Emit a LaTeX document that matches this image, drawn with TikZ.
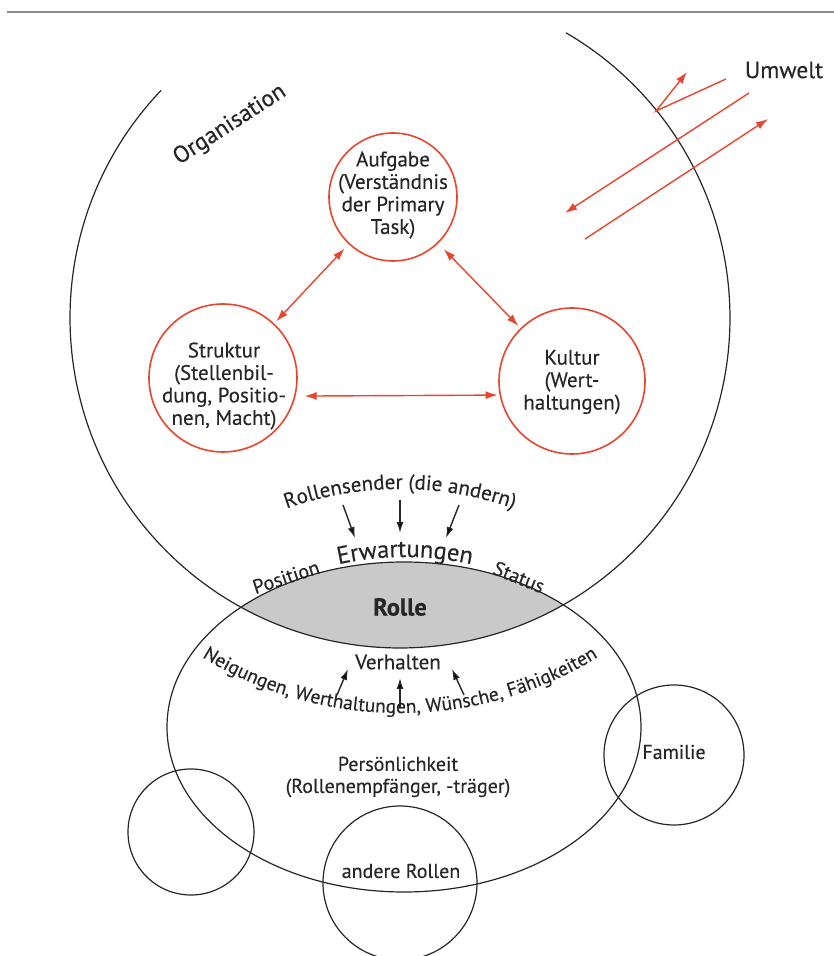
\documentclass[tikz,border=0pt]{standalone}
\usepackage{fontspec}
\setmainfont{PT Sans}[FakeBold=0.3]
\usetikzlibrary{arrows.meta,decorations.text}
\definecolor{ored}{HTML}{E8452F}
\definecolor{lensgray}{HTML}{C9C9C9}
\definecolor{ink}{HTML}{262626}
\begin{document}
\begin{tikzpicture}[x=1pt,y=1pt,
  blackline/.style={draw=ink, line width=1.2pt},
  blackcirc/.style={circle, draw=ink, line width=1.2pt, inner sep=0pt},
  redcirc/.style={circle, draw=ored, line width=1.6pt, inner sep=0pt},
  txt/.style={text=ink, align=center, inner sep=0pt, font=\fontsize{20}{22}\selectfont},
  redtxt/.style={txt, font=\fontsize{21}{22.5}\selectfont},
  redarrow/.style={draw=ored, line width=1.4pt, {Latex[length=12pt,width=8pt]}-{Latex[length=12pt,width=8pt]}},
  redline/.style={draw=ored, line width=1.4pt},
  blackarrow/.style={draw=ink, line width=1.4pt, -{Latex[length=11pt,width=7pt]}},
  curvetxt/.style={decorate, decoration={text along path, text align=center, text color=ink}}
]
\useasboundingbox (0,0) rectangle (834,956);
% top rule
\coordinate (r1) at (7,944);
\coordinate (r2) at (834,944);
\draw[black!45, line width=1.2pt] (r1) -- (r2);

% lens fill
\begin{scope}
  \clip (400,638) circle (330);
  \fill[lensgray] (404,229) ellipse [x radius=237, y radius=165];
\end{scope}

% Organisation circle (open arc)
\draw[blackline] (400,638) ++(136.4:330) arc (136.4:419.8:330);
% Persoenlichkeit ellipse
\draw[blackline] (404,229) ellipse [x radius=237, y radius=165];

% small circles
\node[blackcirc, minimum size=126pt] (leer) at (191,124) {};
\node[blackcirc, minimum size=154pt] (andere) at (400,73) {};
\node[blackcirc, minimum size=140pt] (fam) at (674,201) {};
\node[txt] (anderetxt) at (401,85) {andere Rollen};
\node[txt] (famtxt) at (674,204) {Familie};

% red circles
\node[redcirc, minimum size=128pt] (aufg) at (393,759) {};
\node[redcirc, minimum size=148pt] (strukt) at (223,578) {};
\node[redcirc, minimum size=146pt] (kult) at (572,575) {};
\node[redtxt] (aufgtxt) at (393,761) {Aufgabe\\(Verständnis\\der Primary\\Task)};
\node[redtxt] (strukttxt) at (224,570) {Struktur\\(Stellenbil-\\dung, Positio-\\nen, Macht)};
\node[redtxt] (kulttxt) at (572,574) {Kultur\\(Wert-\\haltungen)};

% red arrows between circles
\draw[redarrow, shorten <=6pt, shorten >=3pt] (aufg) -- (strukt);
\draw[redarrow, shorten <=8pt, shorten >=3pt] (aufg) -- (kult);
\draw[redarrow, shorten <=9pt, shorten >=2pt] (strukt.-14) -- (kult.191.7);

% Umwelt arrows
\coordinate (u1) at (726,877);
\coordinate (u2) at (656,845);
\coordinate (u3) at (687,884);
\coordinate (u4) at (749,863);
\coordinate (u5) at (565,743);
\coordinate (u6) at (585,717);
\coordinate (u7) at (768,837);
\draw[redline, -{Latex[length=12pt,width=8pt]}] (u1) -- (u2) -- (u3);
\draw[redline, -{Latex[length=12pt,width=8pt]}] (u4) -- (u5);
\draw[redline, -{Latex[length=12pt,width=8pt]}] (u6) -- (u7);
\node[txt, font=\fontsize{23.5}{26}\selectfont] (umwelt) at (784,886) {Umwelt};

% Organisation label
\node[txt, rotate=33, font=\fontsize{23.5}{26}\selectfont] (org) at (230,831) {Organisation};

% Rollensender curved text
\path[curvetxt, decoration={text={|\fontsize{21}{24}\selectfont|Rollensender (die andern)}}]
  (400,127) ++(122:340) arc (122:58:340);
% Erwartungen
\path[curvetxt, decoration={text={|\fontsize{24.5}{28}\selectfont|Erwartungen}}]
  (405,94) ++(108:305) arc (108:72:305);
\node[txt, rotate=18] (pos) at (286,379) {Position};
\node[txt, rotate=-22] (status) at (519,379) {Status};
\node[txt, font=\fontsize{24.5}{28}\selectfont\bfseries] (rolle) at (400,349) {Rolle};

% arrows from Rollensender
\coordinate (s1) at (343,451);
\coordinate (s2) at (355,418);
\coordinate (s3) at (400,456);
\coordinate (s4) at (400,423);
\coordinate (s5) at (459,451);
\coordinate (s6) at (446,418);
\draw[blackarrow] (s1) -- (s2);
\draw[blackarrow] (s3) -- (s4);
\draw[blackarrow] (s5) -- (s6);

% Verhalten
\node[txt, font=\fontsize{21}{24}\selectfont] (verh) at (398,294) {Verhalten};
\coordinate (v1) at (337,261);
\coordinate (v2) at (348,287);
\coordinate (v3) at (400,249);
\coordinate (v4) at (400,278);
\coordinate (v5) at (464,261);
\coordinate (v6) at (452,287);
\draw[blackarrow] (v1) -- (v2);
\draw[blackarrow] (v3) -- (v4);
\draw[blackarrow] (v5) -- (v6);

% Neigungen curved text
\path[curvetxt, decoration={text={|\fontsize{19.5}{22}\selectfont|Neigungen, Werthaltungen, Wünsche, Fähigkeiten}}]
  (400,621) ++(230:378) arc (230:310:378);

% Persoenlichkeit
\node[txt] (pers) at (398,179) {Persönlichkeit\\(Rollenempfänger, -träger)};
\end{tikzpicture}
\end{document}
